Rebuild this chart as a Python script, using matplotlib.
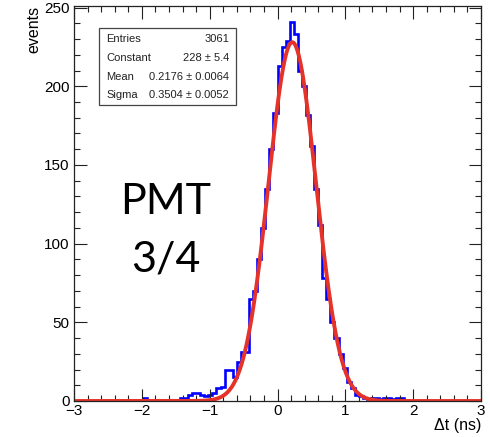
import numpy as np
import matplotlib
matplotlib.use("Agg")
import matplotlib.pyplot as plt
from matplotlib.ticker import MultipleLocator

# ---- data ----
x_min, x_max, n_bins = -3.0, 3.0, 100
counts = [0]*17 + [2] + [0]*8 + [
    2, 2, 4, 5, 5, 4, 3, 4, 5, 8, 9,            # 26-36
    20, 20, 15, 25, 31, 31,                     # 37-42
    65, 70, 90, 110, 135, 160, 183,             # 43-49
    213, 225, 229, 241, 233, 210, 200,          # 50-56
    182, 162, 135, 112, 78, 65, 50,             # 57-63
    40, 30, 21, 12, 8, 4, 3,                    # 64-70
    2, 1, 2, 2, 1, 2, 2, 1, 2, 2]               # 71-80
counts = counts + [0]*(n_bins - len(counts))

fit_constant = 228.0
fit_mean = 0.2176
fit_sigma = 0.3504

stats_labels = ["Entries", "Constant", "Mean", "Sigma"]
stats_values = ["3061", "228 \u00b1 5.4", "0.2176 \u00b1 0.0064", "0.3504 \u00b1 0.0052"]

# ---- figure ----
plt.rcParams['font.family'] = ['Liberation Sans', 'DejaVu Sans']
W, H = 490, 437
fig = plt.figure(figsize=(W/100, H/100), dpi=100)
ax = fig.add_axes([74/W, 1-401/H, (481-74)/W, (401-6)/H])

edges = np.linspace(x_min, x_max, n_bins + 1)
ax.stairs(counts, edges, color='#0000ff', lw=1.9, baseline=None)

xf = np.linspace(x_min, x_max, 600)
yf = fit_constant * np.exp(-0.5*((xf - fit_mean)/fit_sigma)**2)
ax.plot(xf, yf, color='#e5332a', lw=2.8, solid_capstyle='round')

ax.set_xlim(x_min, x_max)
ax.set_ylim(0, 251)
ax.xaxis.set_major_locator(MultipleLocator(1))
ax.xaxis.set_minor_locator(MultipleLocator(0.2))
ax.yaxis.set_major_locator(MultipleLocator(50))
ax.yaxis.set_minor_locator(MultipleLocator(10))
ax.tick_params(which='both', direction='in', top=True, right=True,
               colors='#222222', labelcolor='black', labelsize=11, width=0.8)
ax.tick_params(which='major', length=9)
ax.tick_params(which='minor', length=4.5)
ax.tick_params(axis='x', pad=2.5)
ax.tick_params(axis='y', pad=3)
for s in ax.spines.values():
    s.set_linewidth(0.9)
    s.set_color('#222222')

ax.set_ylabel('events', loc='top', fontsize=11.5, labelpad=2)
ax.set_xlabel('\u0394t (ns)', loc='right', fontsize=11.5, labelpad=0)

# stats box
bx0, by0, bx1, by1 = 99, 28, 236, 105
fig.patches.append(plt.Rectangle((bx0/W, 1-by1/H), (bx1-bx0)/W, (by1-by0)/H,
                                 transform=fig.transFigure, fill=True,
                                 facecolor='white', edgecolor='#444444', lw=0.9, zorder=5))
rows_y = [39, 58, 77, 95]
for lab, val, yy in zip(stats_labels, stats_values, rows_y):
    fig.text(106/W, 1-yy/H, lab, fontsize=8, va='center', ha='left', color='#222222', zorder=6)
    fig.text(229/W, 1-yy/H, val, fontsize=8, va='center', ha='right', color='#222222', zorder=6)

fig.text(166/W, 1-(213-11)/H, 'PMT', fontsize=31, family=['Lato', 'DejaVu Sans'],
         ha='center', va='center', color='black')
fig.text(166/W, 1-(270-11)/H, '3/4', fontsize=31, family=['Lato', 'DejaVu Sans'],
         ha='center', va='center', color='black')

fig.savefig('out.png', dpi=100)
